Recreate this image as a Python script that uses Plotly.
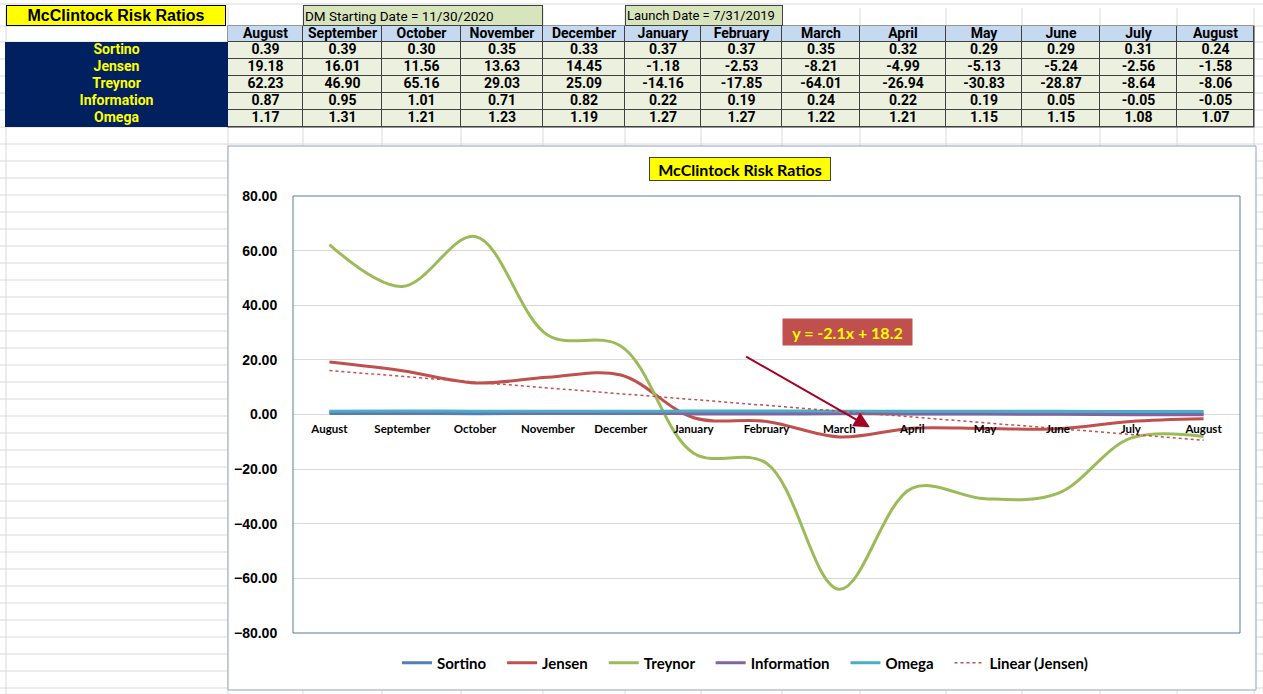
import numpy as np
import plotly.graph_objects as go

# ---------------- data ----------------
months = ["August", "September", "October", "November", "December", "January",
          "February", "March", "April", "May", "June", "July", "August"]
metric_names = ["Sortino", "Jensen", "Treynor", "Information", "Omega"]
sortino = [0.39, 0.39, 0.30, 0.35, 0.33, 0.37, 0.37, 0.35, 0.32, 0.29, 0.29, 0.31, 0.24]
jensen = [19.18, 16.01, 11.56, 13.63, 14.45, -1.18, -2.53, -8.21, -4.99, -5.13, -5.24, -2.56, -1.58]
treynor = [62.23, 46.90, 65.16, 29.03, 25.09, -14.16, -17.85, -64.01, -26.94, -30.83, -28.87, -8.64, -8.06]
information = [0.87, 0.95, 1.01, 0.71, 0.82, 0.22, 0.19, 0.24, 0.22, 0.19, 0.05, -0.05, -0.05]
omega = [1.17, 1.31, 1.21, 1.23, 1.19, 1.27, 1.27, 1.22, 1.21, 1.15, 1.15, 1.08, 1.07]
y_tick_vals = [80, 60, 40, 20, 0, -20, -40, -60, -80]
sheet_title = "McClintock Risk Ratios"
dm_label = "DM Starting Date = 11/30/2020"
launch_label = "Launch Date = 7/31/2019"
chart_title = "McClintock Risk Ratios"
trend_name = "Linear (Jensen)"

series = [sortino, jensen, treynor, information, omega]
colors = ["#4F81BD", "#C0504D", "#9BBB59", "#8064A2", "#4BACC6"]

# ---------------- geometry helpers (screen pixels -> paper) ----------------
W = 1263
H_SET = 702
TOP = 8
HE = H_SET - 16
def px(x):
    return x / W
def py(y):
    return 1 - (y - TOP) / HE

NARROW = "Roboto, Liberation Sans Narrow, Arial Narrow, sans-serif"
ARIAL = "Liberation Sans, Arial, sans-serif"
CAL = "Lato, Carlito, Calibri, sans-serif"
PAD = "\u00a0\u00a0\u00a0"

fig = go.Figure()

# ---------------- chart lines ----------------
x_idx = list(range(len(months)))
for name, vals, c in zip(metric_names, series, colors):
    fig.add_trace(go.Scatter(x=x_idx, y=vals, mode="lines", name=name + PAD,
                             line=dict(color=c, width=3, shape="spline", smoothing=1)))

xn = np.arange(1, len(jensen) + 1)
m, b = np.polyfit(xn, jensen, 1)
trend = m * xn + b
fig.add_trace(go.Scatter(x=x_idx, y=trend, mode="lines", name=trend_name,
                         line=dict(color="#C0504D", width=1.5, dash="dot")))

# ---------------- spreadsheet table (own subplot: x2/y2 in sheet units) ----------------
col_bounds = [5, 228, 303, 382, 461, 543, 625, 701, 782, 860, 946, 1022, 1100, 1177, 1254]
row_bounds = [26, 42, 59, 76, 93, 110, 127]
col_centers = [(col_bounds[i] + col_bounds[i + 1]) / 2 for i in range(len(col_bounds) - 1)]
row_centers = [(row_bounds[i] + row_bounds[i + 1]) / 2 for i in range(len(row_bounds) - 1)]

z_cells = [[0] * len(months)] + [[1] * len(months) for _ in metric_names]
fig.add_trace(go.Heatmap(x=col_bounds[1:], y=row_bounds, z=z_cells, xaxis="x2", yaxis="y2",
                         zmin=0, zmax=1, showscale=False, xgap=1, ygap=1, hoverinfo="skip",
                         colorscale=[[0, "#C5D9F1"], [0.5, "#C5D9F1"], [0.5, "#EBF1DE"], [1, "#EBF1DE"]]))
fig.add_trace(go.Heatmap(x=col_bounds[:2], y=row_bounds[1:], z=[[0] for _ in metric_names],
                         xaxis="x2", yaxis="y2", zmin=0, zmax=1, showscale=False, hoverinfo="skip",
                         colorscale=[[0, "#002060"], [1, "#002060"]]))

tx, ty, tt, tc = [], [], [], []
for j, mo in enumerate(months):
    tx.append(col_centers[j + 1]); ty.append(row_centers[0]); tt.append(mo); tc.append("#000000")
for i, (name, s) in enumerate(zip(metric_names, series)):
    tx.append(col_centers[0]); ty.append(row_centers[i + 1]); tt.append(name); tc.append("#FFFF00")
    for j in range(len(months)):
        tx.append(col_centers[j + 1]); ty.append(row_centers[i + 1])
        tt.append(f"{s[j]:.2f}"); tc.append("#000000")
fig.add_trace(go.Scatter(x=tx, y=ty, text=tt, mode="text", xaxis="x2", yaxis="y2",
                         textposition="middle center", showlegend=False, hoverinfo="skip",
                         textfont=dict(family=NARROW, size=14, color=tc, weight="bold")))

# ---------------- background sheet grid ----------------
shapes = []
grid_c = "#D9D9D9"
hlines = [4, 26, 42] + list(range(59, 700, 17))
for y in hlines:
    shapes.append(dict(type="line", xref="paper", yref="paper", x0=0, x1=1, y0=py(y), y1=py(y),
                       line=dict(color=grid_c, width=1), layer="below"))
for x in [6] + col_bounds[1:]:
    shapes.append(dict(type="line", xref="paper", yref="paper", x0=px(x), x1=px(x), y0=0, y1=1,
                       line=dict(color=grid_c, width=1), layer="below"))
shapes.append(dict(type="rect", xref="paper", yref="paper", x0=px(227.5), x1=px(1254.5),
                   y0=py(127.5), y1=py(25.5), fillcolor="#404040", line=dict(width=0), layer="below"))
shapes.append(dict(type="rect", xref="paper", yref="paper", x0=px(228), x1=px(1256),
                   y0=py(690), y1=py(146), fillcolor="#FFFFFF",
                   line=dict(color="#8FA5BE", width=1), layer="below"))
shapes.append(dict(type="rect", xref="x domain", yref="y domain", x0=0, x1=1, y0=0, y1=1,
                   line=dict(color="#5B7A98", width=1), layer="above"))

y_dom = [py(633), py(196)]
zero_pos = y_dom[0] + (y_dom[1] - y_dom[0]) * (0 - (-80)) / 160

annotations = [
    dict(text=sheet_title, xref="paper", yref="paper", x=px(6), y=py(15.5),
         xanchor="left", yanchor="middle", showarrow=False, width=216, height=17,
         bgcolor="#FFFF00", bordercolor="#000000", borderwidth=1, borderpad=1,
         font=dict(family=ARIAL, size=16, color="#000000", weight="bold")),
    dict(text=dm_label, xref="paper", yref="paper", x=px(303), y=py(15.5),
         xanchor="left", yanchor="middle", showarrow=False, width=236, height=17,
         align="left", bgcolor="#D8E4BC", bordercolor="#404040", borderwidth=1, borderpad=1,
         font=dict(family=NARROW, size=13.5, color="#000000")),
    dict(text=launch_label, xref="paper", yref="paper", x=px(625), y=py(15.5),
         xanchor="left", yanchor="middle", showarrow=False, width=154, height=17,
         align="left", bgcolor="#D8E4BC", bordercolor="#404040", borderwidth=1, borderpad=1,
         font=dict(family=NARROW, size=13, color="#000000")),
    dict(text=chart_title, xref="paper", yref="paper", x=px(740), y=py(169),
         xanchor="center", yanchor="middle", showarrow=False, width=178, height=20,
         bgcolor="#FFFF00", bordercolor="#404040", borderwidth=1, borderpad=1,
         font=dict(family=CAL, size=16, color="#000000", weight="bold")),
    dict(text=f"y = {m:.1f}x + {b:.1f}", xref="x", yref="y", x=7.11, y=30.3,
         xanchor="center", yanchor="middle", showarrow=False, width=125, height=22,
         bgcolor="#C0504D", borderpad=2,
         font=dict(family=CAL, size=16, color="#FFFF00", weight="bold")),
    dict(text="", xref="x", yref="y", x=7.42, y=-4.7, axref="x", ayref="y", ax=5.70, ay=21.5,
         showarrow=True, arrowhead=2, arrowsize=1.6, arrowwidth=2, arrowcolor="#A50021"),
]

fig.update_layout(
    width=W, height=H_SET, margin=dict(l=0, r=0, t=0, b=0),
    paper_bgcolor="#FFFFFF", plot_bgcolor="rgba(0,0,0,0)",
    shapes=shapes, annotations=annotations,
    showlegend=True,
    legend=dict(orientation="h", x=px(745), xanchor="center", y=py(663), yanchor="middle",
                font=dict(family=CAL, size=15, color="#000000", weight="bold"),
                bgcolor="rgba(0,0,0,0)", itemwidth=30),
    xaxis=dict(domain=[px(293), px(1240)], range=[-0.5, len(months) - 0.5],
               tickvals=x_idx, ticktext=months, anchor="free", position=zero_pos,
               showgrid=False, zeroline=False, showline=False,
               ticks="outside", ticklen=4, tickcolor="rgba(0,0,0,0)",
               tickfont=dict(family=CAL, size=11.5, color="#000000", weight="bold")),
    yaxis=dict(domain=y_dom, range=[-80, 80], tickvals=y_tick_vals, tickformat=".2f",
               showgrid=True, gridcolor="#D9D9D9", gridwidth=1, zeroline=False, showline=False,
               ticks="outside", ticklen=12, tickcolor="rgba(0,0,0,0)",
               tickfont=dict(family=ARIAL, size=14, color="#000000", weight="bold")),
    xaxis2=dict(domain=[px(col_bounds[0]), px(col_bounds[-1])], range=[col_bounds[0], col_bounds[-1]],
                anchor="y2", visible=False, fixedrange=True),
    yaxis2=dict(domain=[py(row_bounds[-1]), py(row_bounds[0])], range=[row_bounds[-1], row_bounds[0]],
                anchor="x2", visible=False, fixedrange=True),
)

fig.write_html("out.html")
